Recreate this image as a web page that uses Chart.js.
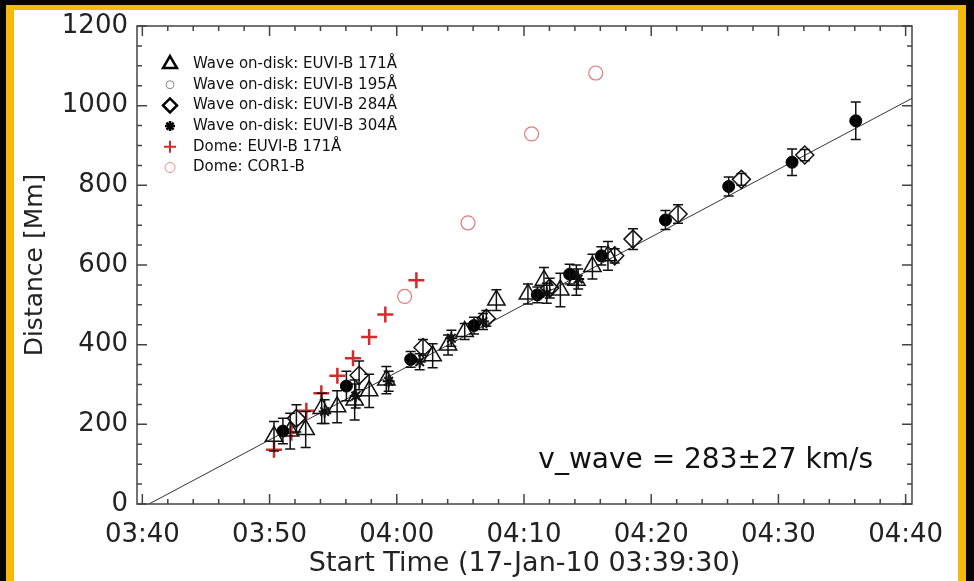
<!DOCTYPE html>
<html>
<head>
<meta charset="utf-8">
<script src="https://cdn.jsdelivr.net/npm/chart.js@4.4.0/dist/chart.umd.min.js"></script>
<style>
  html, body { margin: 0; padding: 0; background: #050505; width: 974px; height: 581px; overflow: hidden; }
  .panel { position: absolute; left: 6px; top: 5px; width: 960px; height: 600px; background: #fff;
           border: 8px solid #f7b90c; border-top-width: 5px; box-sizing: border-box; }
  #chart { position: absolute; left: 0; top: 0; }
</style>
</head>
<body>
<div class="panel"></div>
<canvas id="chart" width="974" height="581"></canvas>
<script>
// times are minutes after 03:40 UT, distances in Mm
const tri171T = [10.35, 11.62, 12.84, 14.10, 15.31, 16.69, 17.83, 19.18, 22.82, 24.03, 25.34, 27.83, 30.31, 31.57, 32.86, 34.12, 35.38, 36.60];
const tri171D = [170, 183, 187, 240, 244, 261, 284, 311, 372, 399, 433, 512, 527, 562, 537, 562, 596, 623];
const tri171E = [37, 45, 45, 38, 40, 50, 42, 34, 30, 25, 20, 26, 25, 32, 42, 38, 31, 36];

const circ195T = [11.05, 16.04, 21.09, 26.07, 31.05, 33.59, 36.08, 41.12, 46.09, 51.07, 56.08];
const circ195D = [183, 296, 363, 448, 525, 577, 623, 713, 797, 858, 962];
const circ195E = [32, 37, 20, 21, 20, 25, 23, 24, 24, 33, 47];

const dia284T = [12.11, 17.04, 22.06, 27.04, 32.02, 37.13, 38.57, 42.11, 47.09, 52.07];
const dia284D = [215, 323, 393, 466, 542, 623, 665, 728, 815, 876];
const dia284E = [34, 36, 20, 20, 25, 18, 26, 23, 15, 14];

const ast304T = [14.33, 16.77, 19.36, 21.80, 24.29, 26.78, 31.79, 34.26];
const ast304D = [232, 271, 308, 357, 416, 458, 529, 565];
const ast304E = [30, 30, 25, 20, 20, 20, 25, 25];

const domeEuviT = [10.35, 11.71, 12.89, 14.07, 15.33, 16.56, 17.83, 19.10, 21.54];
const domeEuviD = [136, 179, 234, 278, 322, 366, 419, 476, 562];

const domeCorT = [20.62, 25.60, 30.60, 35.64];
const domeCorD = [521, 706, 929, 1082];

// linear fit: speed (km/s), error, start of the front (minutes)
const vWave = 283;
const vWaveErr = 27;
const fitT0 = 0.52;

const xRange = [-0.42, 60.5];
const yRange = [0, 1200];
const xMajor = [0, 10, 20, 30, 40, 50, 60];
const xMinor = [2, 4, 6, 8, 12, 14, 16, 18, 22, 24, 26, 28, 32, 34, 36, 38, 42, 44, 46, 48, 52, 54, 56, 58];
const yMajor = [0, 200, 400, 600, 800, 1000, 1200];
const yMinor = [50, 100, 150, 250, 300, 350, 450, 500, 550, 650, 700, 750, 850, 900, 950, 1050, 1100, 1150];

const FONT = "'DejaVu Sans ExtraLight', 'DejaVu Sans', sans-serif";

const pts = (ts, ds) => ts.map((t, i) => ({ x: t, y: ds[i] }));
const slope = vWave * 60 / 1000; // Mm per minute
const fitLine = [fitT0, xRange[1]].map(t => ({ x: t, y: slope * (t - fitT0) }));

const fmtTime = v => {
  const m = 40 + v;
  const h = 3 + Math.floor(m / 60);
  const mm = m % 60;
  return String(h).padStart(2, "0") + ":" + String(mm).padStart(2, "0");
};

const legendRows = [
  { style: "triangle", r: 8, lw: 2.5, stroke: "#000", fill: "rgba(0,0,0,0)" },
  { style: "circle", r: 4, lw: 1, stroke: "#888", fill: "rgba(0,0,0,0)" },
  { style: "rectRot", r: 7, lw: 2.5, stroke: "#000", fill: "rgba(0,0,0,0)" },
  { style: "star", r: 5, lw: 2.5, stroke: "#000", fill: "rgba(0,0,0,0)" },
  { style: "cross", r: 6, lw: 2, stroke: "#d42a2a", fill: "rgba(0,0,0,0)" },
  { style: "circle", r: 5, lw: 1, stroke: "#e58a8a", fill: "rgba(0,0,0,0)" }
];

const idlPlot = {
  id: "idlPlot",
  afterDatasetsDraw(chart) {
    const { ctx, scales } = chart;
    const xs = scales.x, ys = scales.y;

    // error bars
    ctx.save();
    ctx.strokeStyle = "#111";
    ctx.lineWidth = 1.5;
    chart.data.datasets.forEach(ds => {
      if (!ds.errors) return;
      ds.data.forEach((p, i) => {
        const px = xs.getPixelForValue(p.x);
        const y1 = ys.getPixelForValue(p.y - ds.errors[i]);
        const y2 = ys.getPixelForValue(p.y + ds.errors[i]);
        ctx.beginPath();
        ctx.moveTo(px, y1); ctx.lineTo(px, y2);
        ctx.moveTo(px - 5, y1); ctx.lineTo(px + 5, y1);
        ctx.moveTo(px - 5, y2); ctx.lineTo(px + 5, y2);
        ctx.stroke();
      });
    });
    ctx.restore();
  },
  afterDraw(chart) {
    const { ctx, chartArea: a, scales } = chart;
    const xs = scales.x, ys = scales.y;
    ctx.save();
    ctx.strokeStyle = "#444";
    ctx.lineWidth = 1.5;
    ctx.strokeRect(a.left, a.top, a.right - a.left, a.bottom - a.top);

    const tick = (vals, len) => {
      ctx.beginPath();
      vals.forEach(v => {
        const px = xs.getPixelForValue(v);
        ctx.moveTo(px, a.bottom); ctx.lineTo(px, a.bottom - len);
        ctx.moveTo(px, a.top); ctx.lineTo(px, a.top + len);
      });
      ctx.stroke();
    };
    const ytick = (vals, len) => {
      ctx.beginPath();
      vals.forEach(v => {
        const py = ys.getPixelForValue(v);
        ctx.moveTo(a.left, py); ctx.lineTo(a.left + len, py);
        ctx.moveTo(a.right, py); ctx.lineTo(a.right - len, py);
      });
      ctx.stroke();
    };
    tick(xMajor, 10); tick(xMinor, 5);
    ytick(yMajor, 10); ytick(yMinor, 5);

    // legend
    ctx.font = "15px " + FONT;
    ctx.textBaseline = "middle";
    ctx.textAlign = "left";
    const labels = chart.data.datasets.filter(d => d.inLegend).map(d => d.label);
    labels.forEach((lab, i) => {
      const row = legendRows[i];
      const y = a.top + 38 + i * 20.7;
      ctx.strokeStyle = row.stroke;
      ctx.fillStyle = row.fill;
      ctx.lineWidth = row.lw;
      Chart.helpers.drawPoint(ctx, { pointStyle: row.style, radius: row.r, rotation: 0, borderWidth: row.lw }, a.left + 33, y);
      ctx.fillStyle = "#111";
      ctx.fillText(lab, a.left + 56, y);
    });

    // fit annotation
    ctx.font = "28px " + FONT;
    ctx.textAlign = "right";
    ctx.fillStyle = "#111";
    ctx.fillText("v_wave = " + vWave + "±" + vWaveErr + " km/s", a.right - 39, a.bottom - 43);
    ctx.restore();
  }
};

const ctx = document.getElementById("chart").getContext("2d");

new Chart(ctx, {
  type: "scatter",
  data: {
    datasets: [
      {
        label: "Wave on-disk: EUVI-B 171Å",
        data: pts(tri171T, tri171D),
        errors: tri171E,
        inLegend: true,
        pointStyle: "triangle",
        pointRadius: 10,
        borderColor: "#111",
        borderWidth: 1.5,
        backgroundColor: "rgba(0,0,0,0)"
      },
      {
        label: "Wave on-disk: EUVI-B 195Å",
        data: pts(circ195T, circ195D),
        errors: circ195E,
        inLegend: true,
        pointStyle: "circle",
        pointRadius: 6,
        borderColor: "#000",
        borderWidth: 1,
        backgroundColor: "#000"
      },
      {
        label: "Wave on-disk: EUVI-B 284Å",
        data: pts(dia284T, dia284D),
        errors: dia284E,
        inLegend: true,
        pointStyle: "rectRot",
        pointRadius: 9,
        borderColor: "#111",
        borderWidth: 1.5,
        backgroundColor: "rgba(0,0,0,0)"
      },
      {
        label: "Wave on-disk: EUVI-B 304Å",
        data: pts(ast304T, ast304D),
        errors: ast304E,
        inLegend: true,
        pointStyle: "star",
        pointRadius: 6,
        borderColor: "#111",
        borderWidth: 2
      },
      {
        label: "Dome: EUVI-B 171Å",
        data: pts(domeEuviT, domeEuviD),
        inLegend: true,
        pointStyle: "cross",
        pointRadius: 8,
        borderColor: "#d42a2a",
        borderWidth: 2.5
      },
      {
        label: "Dome: COR1-B",
        data: pts(domeCorT, domeCorD),
        inLegend: true,
        pointStyle: "circle",
        pointRadius: 7,
        borderColor: "#e07a7a",
        borderWidth: 1.2,
        backgroundColor: "rgba(0,0,0,0)"
      },
      {
        type: "line",
        label: "fit",
        data: fitLine,
        borderColor: "#333",
        borderWidth: 1,
        pointRadius: 0,
        order: 10
      }
    ]
  },
  options: {
    responsive: false,
    animation: false,
    layout: { padding: { top: 26, right: 62, left: 0, bottom: 0 } },
    plugins: {
      legend: { display: false },
      tooltip: { enabled: false }
    },
    scales: {
      x: {
        type: "linear",
        min: xRange[0],
        max: xRange[1],
        afterBuildTicks: s => { s.ticks = xMajor.map(v => ({ value: v })); },
        afterFit: s => { s.height = 77; },
        grid: { display: false, drawTicks: false },
        border: { display: false },
        ticks: {
          padding: 16,
          maxRotation: 0,
          autoSkip: false,
          color: "#222",
          font: { family: FONT, size: 26 },
          callback: v => fmtTime(v)
        },
        title: {
          display: true,
          text: "Start Time (17-Jan-10 03:39:30)",
          color: "#222",
          font: { family: FONT, size: 27 },
          padding: { top: 0, bottom: 1 }
        }
      },
      y: {
        min: yRange[0],
        max: yRange[1],
        afterBuildTicks: s => { s.ticks = yMajor.map(v => ({ value: v })); },
        afterFit: s => { s.width = 137; },
        grid: { display: false, drawTicks: false },
        border: { display: false },
        ticks: {
          padding: 9,
          color: "#222",
          font: { family: FONT, size: 26 },
          callback: v => String(v)
        },
        title: {
          display: true,
          text: "Distance [Mm]",
          color: "#222",
          font: { family: FONT, size: 25 },
          padding: { top: 20, bottom: 0 }
        }
      }
    }
  },
  plugins: [idlPlot]
});
</script>
</body>
</html>
